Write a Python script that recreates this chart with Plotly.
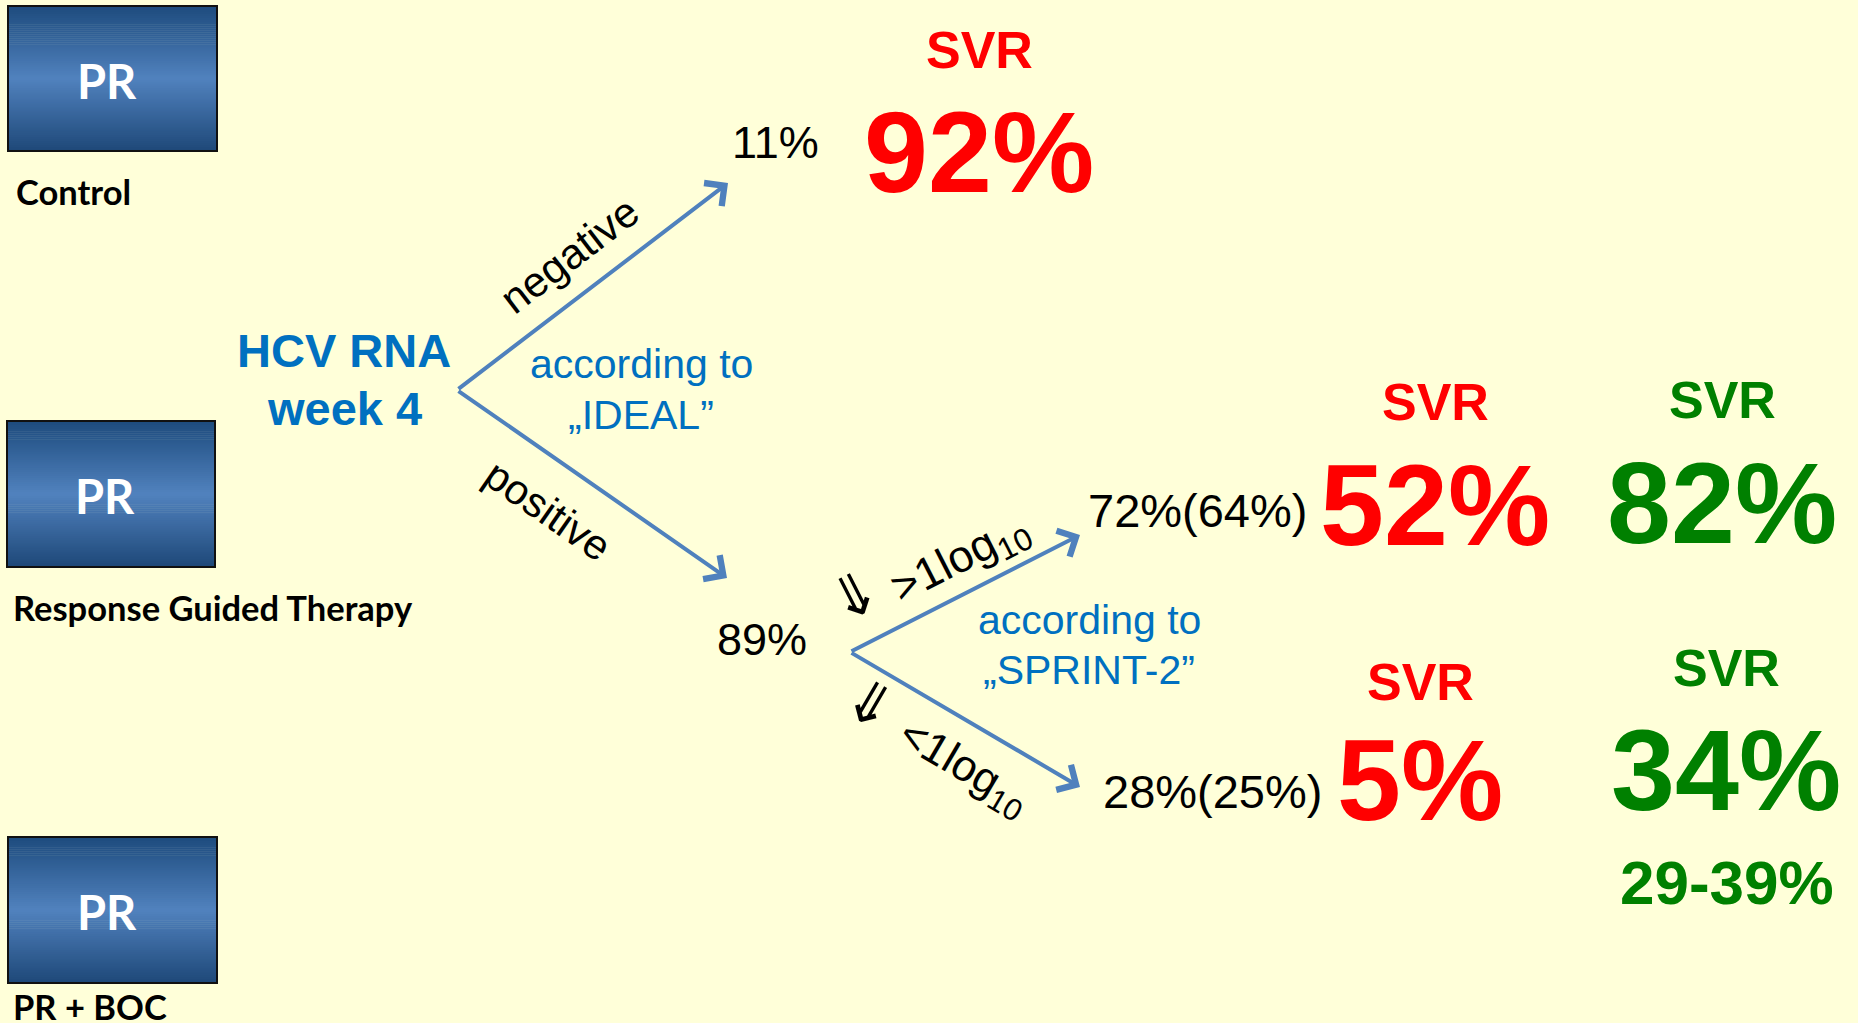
import plotly.graph_objects as go

# ---------------- data ----------------
arm_labels = ["Control", "Response Guided Therapy", "PR + BOC"]
regimen_labels = ["PR", "PR", "PR"]

decision_label = ["HCV RNA", "week 4"]
week4_branches = ["negative", "positive"]
week4_shares = [11, 89]                  # % of patients (IDEAL)
ideal_label = ["according to", "\u201eIDEAL\u201d"]

decline_symbol = "\u21d3"
decline_branches = [">1log<sub>10</sub>", "<1log<sub>10</sub>"]
decline_shares = [72, 28]                # % of patients (SPRINT-2)
decline_shares_alt = [64, 25]
sprint_label = ["according to", "\u201eSPRINT-2\u201d"]

svr_title = "SVR"
svr_pr = [92, 52, 5]                     # SVR, PR (red)
svr_boc = [82, 34]                       # SVR, PR + BOC (green)
svr_boc_range = [29, 39]

# ---------------- layout / styles ----------------
W, H = 1858, 1023
BG = "#FFFFD9"
ARROW = "#4F81BD"
BLUE = "#0070C0"
RED = "#FF0000"
GREEN = "#008000"
ARIAL = "Liberation Sans, Arial, sans-serif"
CALIBRI = "Lato, Calibri, sans-serif"

box_pos = [(8, 6, 217, 151), (7, 421, 215, 567), (8, 837, 217, 983)]
arm_label_pos = [(14, 191), (11, 607), (11, 1006)]

root1 = (457, 390)
tips1 = [(728, 183), (727, 578)]
root2 = (850, 652)
tips2 = [(1080, 535), (1080, 787)]

fig = go.Figure()
shapes = []
annotations = []


def hex2rgb(h):
    h = h.lstrip("#")
    return tuple(int(h[i:i + 2], 16) for i in (0, 2, 4))


def mix(c1, c2, t):
    a, b = hex2rgb(c1), hex2rgb(c2)
    return "rgb(%d,%d,%d)" % tuple(round(a[i] + (b[i] - a[i]) * t) for i in range(3))


TOP, MID, BOT = "#1D4B7D", "#5182BE", "#1E4878"
N = 72
for (x0, y0, x1, y1), lab in zip(box_pos, regimen_labels):
    hgt = (y1 - y0) / N
    for i in range(N):
        t = (i + 0.5) / N
        col = mix(TOP, MID, t / 0.5) if t < 0.5 else mix(MID, BOT, (t - 0.5) / 0.5)
        shapes.append(dict(type="rect", xref="x", yref="y", x0=x0, x1=x1,
                           y0=y0 + i * hgt, y1=y0 + (i + 1) * hgt + 0.6,
                           fillcolor=col, line=dict(width=0), layer="above"))
    shapes.append(dict(type="rect", xref="x", yref="y", x0=x0, x1=x1, y0=y0, y1=y1,
                       fillcolor="rgba(0,0,0,0)", line=dict(color="#111111", width=2),
                       layer="above"))
    annotations.append(dict(x=(x0 + x1) / 2 - 6, y=(y0 + y1) / 2 + 2, xref="x", yref="y",
                            text="<b>%s</b>" % lab, showarrow=False,
                            font=dict(family=CALIBRI, size=47, color="white"),
                            xanchor="center", yanchor="middle"))

for lab, (x, y) in zip(arm_labels, arm_label_pos):
    annotations.append(dict(x=x, y=y, xref="x", yref="y", text="<b>%s</b>" % lab,
                            showarrow=False, xanchor="left", yanchor="middle",
                            font=dict(family=CALIBRI, size=34.5, color="black")))


def txt(x, y, s, size, color="black", bold=False, angle=0, anchor="center", family=ARIAL):
    annotations.append(dict(x=x, y=y, xref="x", yref="y",
                            text=("<b>%s</b>" % s) if bold else s,
                            showarrow=False, xanchor=anchor, yanchor="middle",
                            textangle=angle,
                            font=dict(family=family, size=size, color=color)))


def arrow(root, tip):
    annotations.append(dict(x=tip[0], y=tip[1], ax=root[0], ay=root[1],
                            xref="x", yref="y", axref="x", ayref="y", text="",
                            showarrow=True, arrowhead=4, arrowsize=1.4,
                            arrowwidth=4, arrowcolor=ARROW, standoff=0, startstandoff=0))


# decision node
txt(344, 350, decision_label[0], 47, BLUE, bold=True)
txt(344, 408, decision_label[1], 47, BLUE, bold=True)
for tp in tips1:
    arrow(root1, tp)
txt(569, 255, week4_branches[0], 42.5, angle=-37.4)
txt(548, 510, week4_branches[1], 42, angle=34.8)
txt(641, 364, ideal_label[0], 41, BLUE)
txt(641, 415, ideal_label[1], 41, BLUE)

txt(775, 142, "%d%%" % week4_shares[0], 45)
txt(762, 639, "%d%%" % week4_shares[1], 45)

# second split
for tp in tips2:
    arrow(root2, tp)
txt(854, 596, decline_symbol, 58, angle=-27, family="DejaVu Sans, sans-serif")
txt(870, 704, decline_symbol, 58, angle=30.4, family="DejaVu Sans, sans-serif")
txt(960, 559, decline_branches[0], 45, angle=-27)
txt(963, 768, decline_branches[1], 44, angle=30.4)
txt(1089, 620, sprint_label[0], 41, BLUE)
txt(1089, 670, sprint_label[1], 41, BLUE)

txt(1197, 510, "%d%%(%d%%)" % (decline_shares[0], decline_shares_alt[0]), 47)
txt(1212, 791, "%d%%(%d%%)" % (decline_shares[1], decline_shares_alt[1]), 47)

# SVR (PR) red
red_pos = [(979, 50, 152), (1435, 402, 505), (1420, 682, 780)]
for v, (x, ys, yv) in zip(svr_pr, red_pos):
    txt(x, ys, svr_title, 52, RED, bold=True)
    txt(x, yv, "%d%%" % v, 115, RED, bold=True)

# SVR (PR + BOC) green
green_pos = [(1722, 400, 503), (1726, 668, 770)]
for v, (x, ys, yv) in zip(svr_boc, green_pos):
    txt(x, ys, svr_title, 52, GREEN, bold=True)
    txt(x, yv, "%d%%" % v, 115, GREEN, bold=True)
txt(1727, 882, "%d-%d%%" % tuple(svr_boc_range), 62, GREEN, bold=True)

fig.update_layout(
    width=W, height=H, autosize=False,
    margin=dict(l=0, r=0, t=0, b=0, pad=0),
    paper_bgcolor=BG, plot_bgcolor=BG,
    xaxis=dict(range=[0, W], visible=False, fixedrange=True),
    yaxis=dict(range=[H, 0], visible=False, fixedrange=True),
    shapes=shapes, annotations=annotations, showlegend=False,
)

fig.write_html("out.html", config={"displayModeBar": False})
